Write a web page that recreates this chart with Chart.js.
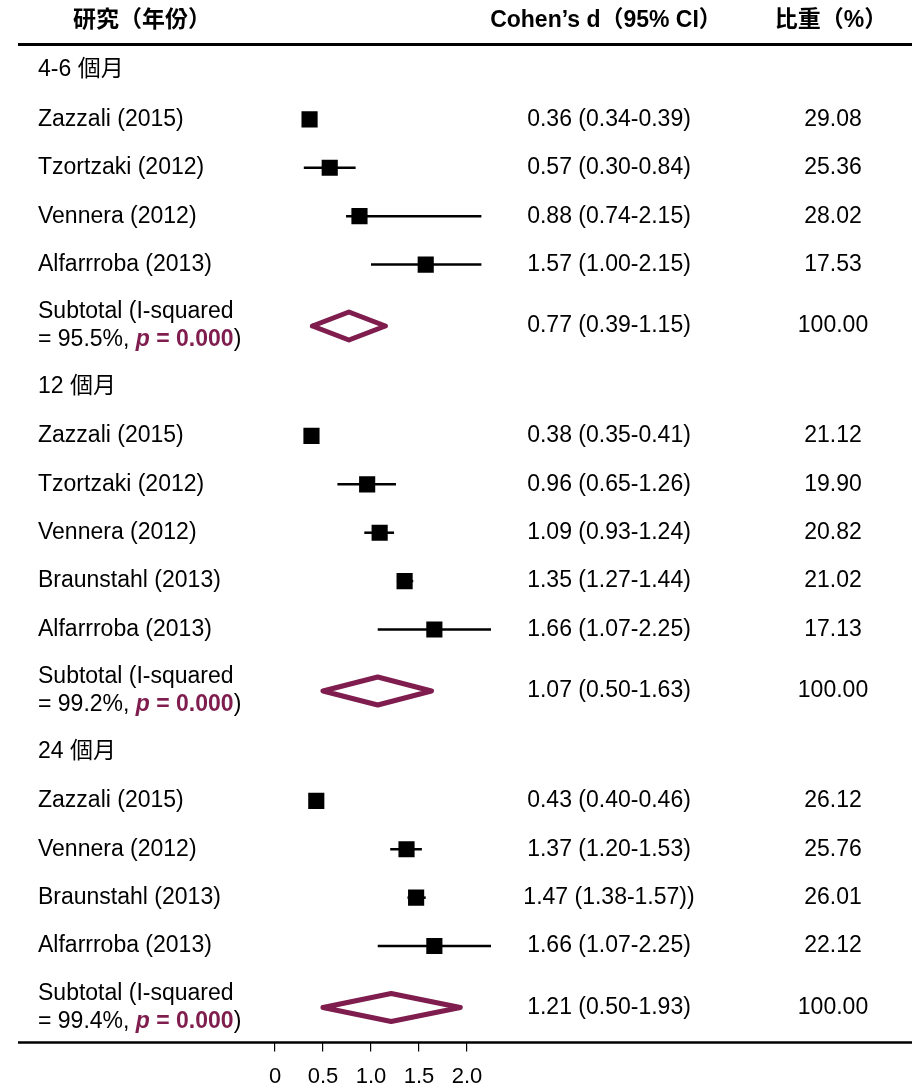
<!DOCTYPE html>
<html>
<head>
<meta charset="utf-8">
<script src="https://cdn.jsdelivr.net/npm/chart.js@4/dist/chart.umd.min.js"></script>
<style>
html,body{margin:0;padding:0;background:#fff;}
#wrap{width:912px;height:1085px;position:relative;}
</style>
</head>
<body>
<div id="wrap"><canvas id="c" width="912" height="1085"></canvas></div>
<script>
// ---------- DATA ----------
const headers = ['研究（年份）', 'Cohen’s d（95% CI）', '比重（%）'];
const groupNames = ['4-6 個月', '12 個月', '24 個月'];

const g1Studies = ['Zazzali (2015)', 'Tzortzaki (2012)', 'Vennera (2012)', 'Alfarrroba (2013)'];
const g1Est = [0.36, 0.57, 0.88, 1.57];
const g1Lo  = [0.34, 0.30, 0.74, 1.00];
const g1Hi  = [0.39, 0.84, 2.15, 2.15];
const g1CI  = ['0.36 (0.34-0.39)', '0.57 (0.30-0.84)', '0.88 (0.74-2.15)', '1.57 (1.00-2.15)'];
const g1Weight = [29.08, 25.36, 28.02, 17.53];
const g1Sub = [0.77, 0.39, 1.15];
const g1SubCI = '0.77 (0.39-1.15)';
const g1I2 = '95.5%';

const g2Studies = ['Zazzali (2015)', 'Tzortzaki (2012)', 'Vennera (2012)', 'Braunstahl (2013)', 'Alfarrroba (2013)'];
const g2Est = [0.38, 0.96, 1.09, 1.35, 1.66];
const g2Lo  = [0.35, 0.65, 0.93, 1.27, 1.07];
const g2Hi  = [0.41, 1.26, 1.24, 1.44, 2.25];
const g2CI  = ['0.38 (0.35-0.41)', '0.96 (0.65-1.26)', '1.09 (0.93-1.24)', '1.35 (1.27-1.44)', '1.66 (1.07-2.25)'];
const g2Weight = [21.12, 19.90, 20.82, 21.02, 17.13];
const g2Sub = [1.07, 0.50, 1.63];
const g2SubCI = '1.07 (0.50-1.63)';
const g2I2 = '99.2%';

const g3Studies = ['Zazzali (2015)', 'Vennera (2012)', 'Braunstahl (2013)', 'Alfarrroba (2013)'];
const g3Est = [0.43, 1.37, 1.47, 1.66];
const g3Lo  = [0.40, 1.20, 1.38, 1.07];
const g3Hi  = [0.46, 1.53, 1.57, 2.25];
const g3CI  = ['0.43 (0.40-0.46)', '1.37 (1.20-1.53)', '1.47 (1.38-1.57))', '1.66 (1.07-2.25)'];
const g3Weight = [26.12, 25.76, 26.01, 22.12];
const g3Sub = [1.21, 0.50, 1.93];
const g3SubCI = '1.21 (0.50-1.93)';
const g3I2 = '99.4%';

const subWeight = 100.00;
const pText = 'p = 0.000';
const xTicks = [0, 0.5, 1.0, 1.5, 2.0];
const xTickLabels = ['0', '0.5', '1.0', '1.5', '2.0'];

// ---------- LAYOUT (row positions in row units) ----------
const U = 48.4, Y0 = 70;
const groups = [
  {name: groupNames[0], studies: g1Studies, est: g1Est, lo: g1Lo, hi: g1Hi, ci: g1CI, w: g1Weight, sub: g1Sub, subCI: g1SubCI, i2: g1I2},
  {name: groupNames[1], studies: g2Studies, est: g2Est, lo: g2Lo, hi: g2Hi, ci: g2CI, w: g2Weight, sub: g2Sub, subCI: g2SubCI, i2: g2I2},
  {name: groupNames[2], studies: g3Studies, est: g3Est, lo: g3Lo, hi: g3Hi, ci: g3CI, w: g3Weight, sub: g3Sub, subCI: g3SubCI, i2: g3I2}
];
let pos = 0;
groups.forEach(g => {
  g.headPos = pos;
  pos += 0.02;
  g.rowPos = g.studies.map(() => { pos += 1; return pos; });
  pos += 1.27; g.subPos = pos;
  pos += 1.25;
});

const DIA = '#7f1d4e';
const H = 14 / U; // diamond half-height in row units

const markerData = [];
const datasets = [];
groups.forEach(g => g.est.forEach((e, i) => markerData.push({x: e, y: g.rowPos[i]})));
datasets.push({
  data: markerData, showLine: false, pointStyle: 'rect', pointRadius: 10, pointHoverRadius: 10,
  pointBackgroundColor: '#000', pointBorderColor: '#000', pointBorderWidth: 2, clip: false
});
groups.forEach(g => g.lo.forEach((l, i) => datasets.push({
  data: [{x: l, y: g.rowPos[i]}, {x: g.hi[i], y: g.rowPos[i]}],
  showLine: true, borderColor: '#000', borderWidth: 2.5, pointRadius: 0, clip: false
})));
groups.forEach(g => {
  const [e, l, h] = g.sub, y = g.subPos;
  datasets.push({
    data: [{x: l, y: y}, {x: e, y: y - H}, {x: h, y: y}, {x: e, y: y + H}, {x: l, y: y}],
    showLine: true, borderColor: DIA, borderWidth: 5, borderJoinStyle: 'round', borderCapStyle: 'round',
    pointRadius: 0, fill: false, tension: 0, clip: false
  });
});

const FONT = "'Liberation Sans', Arial, 'Noto Sans CJK TC', sans-serif";
const FS = 23;

const textPlugin = {
  id: 'forestText',
  afterDraw(chart) {
    const ctx = chart.ctx, ys = chart.scales.y;
    const ca = chart.chartArea;
    ctx.save();
    // header
    ctx.fillStyle = '#000';
    ctx.textBaseline = 'middle';
    ctx.textAlign = 'center';
    ctx.font = 'bold 23px ' + FONT;
    ctx.fillText(headers[0], 142, 21);
    ctx.fillText(headers[1], 606, 21);
    ctx.fillText(headers[2], 831, 21);
    // lines
    ctx.strokeStyle = '#000';
    ctx.lineWidth = 3;
    ctx.beginPath(); ctx.moveTo(18, 44.5); ctx.lineTo(912, 44.5); ctx.stroke();
    ctx.lineWidth = 2.5;
    ctx.beginPath(); ctx.moveTo(18, ca.bottom); ctx.lineTo(912, ca.bottom); ctx.stroke();

    const LX = 38, CX = 609, WX = 833;
    ctx.font = FS + 'px ' + FONT;
    groups.forEach(g => {
      ctx.textAlign = 'left';
      ctx.fillText(g.name, LX, ys.getPixelForValue(g.headPos));
      g.studies.forEach((s, i) => {
        const y = ys.getPixelForValue(g.rowPos[i]);
        ctx.textAlign = 'left';
        ctx.fillText(s, LX, y);
        ctx.textAlign = 'center';
        ctx.fillText(g.ci[i], CX, y);
        ctx.fillText(g.w[i].toFixed(2), WX, y);
      });
      const ys2 = ys.getPixelForValue(g.subPos);
      ctx.textAlign = 'left';
      ctx.font = FS + 'px ' + FONT;
      ctx.fillText('Subtotal (I-squared', LX, ys2 - 14);
      let x = LX;
      const part1 = '= ' + g.i2 + ', ';
      ctx.fillText(part1, x, ys2 + 14); x += ctx.measureText(part1).width;
      ctx.fillStyle = DIA;
      ctx.font = 'italic bold ' + FS + 'px ' + FONT;
      ctx.fillText('p', x, ys2 + 14); x += ctx.measureText('p').width;
      ctx.font = 'bold ' + FS + 'px ' + FONT;
      const rest = pText.slice(1);
      ctx.fillText(rest, x, ys2 + 14); x += ctx.measureText(rest).width;
      ctx.fillStyle = '#000';
      ctx.font = FS + 'px ' + FONT;
      ctx.fillText(')', x, ys2 + 14);
      ctx.textAlign = 'center';
      ctx.fillText(g.subCI, CX, ys2);
      ctx.fillText(subWeight.toFixed(2), WX, ys2);
    });
    ctx.restore();
  }
};

const chart = new Chart(document.getElementById('c'), {
  type: 'scatter',
  data: {datasets},
  options: {
    responsive: false, animation: false,
    layout: {padding: {left: 275, right: 445, top: 46, bottom: -18}},
    plugins: {legend: {display: false}, tooltip: {enabled: false}, title: {display: false}},
    scales: {
      x: {
        type: 'linear', min: 0, max: 2, position: 'bottom',
        afterBuildTicks: ax => { ax.ticks = xTicks.map(v => ({value: v})); },
        ticks: {
          color: '#000', padding: 17,
          font: {family: FONT, size: 22, lineHeight: 0.8},
          callback: (v, i) => xTickLabels[i],
          maxRotation: 0, autoSkip: false
        },
        grid: {drawOnChartArea: false, drawTicks: true, tickLength: 9, color: '#000', lineWidth: 1.2},
        border: {display: false}
      },
      y: {type: 'linear', reverse: true, display: false, min: -1.45, max: 20}
    }
  },
  plugins: [textPlugin]
});
const ca = chart.chartArea;
chart.options.scales.y.min = (ca.top - Y0) / U;
chart.options.scales.y.max = (ca.bottom - Y0) / U;
chart.update();
</script>
</body>
</html>
